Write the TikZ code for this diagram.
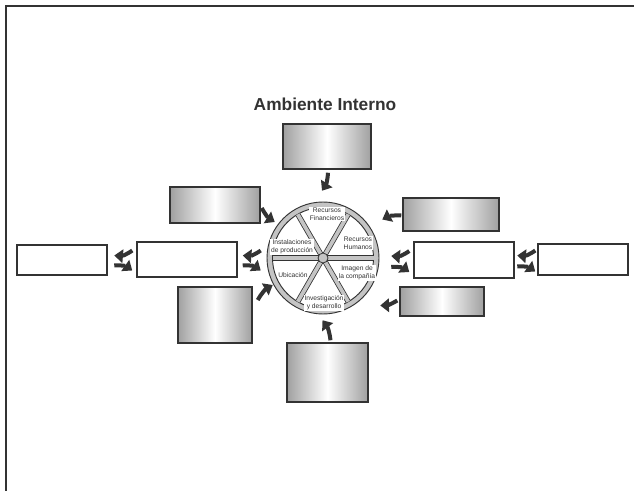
\documentclass[tikz,border=0pt]{standalone}
\usepackage{fontspec}
\setmainfont{Liberation Sans}
\usetikzlibrary{arrows.meta}
\definecolor{ink}{HTML}{333333}
\definecolor{rimgray}{HTML}{C4C4C4}
\definecolor{edgegray}{HTML}{A0A0A0}
\newcommand\pxu{0.75pt}
\tikzset{
  boxbase/.style={draw=ink, line width=1.1pt, inner sep=0pt},
  gbox/.style={boxbase, left color=edgegray, right color=edgegray, middle color=white},
  wbox/.style={boxbase, fill=white},
  barrow/.style={draw=ink, line width=3pt, -{Triangle[length=6.5pt,width=10pt]}},
  sector/.style={font=\fontsize{5}{6}\selectfont, text=ink, align=center, inner sep=0.6pt, fill=white},
  spoke/.style={draw=ink, line width=0.6pt, double=rimgray, double distance=2.8pt},
}
\begin{document}
\begin{tikzpicture}[x=0.75pt,y=-0.75pt]
\useasboundingbox (0,0) rectangle (634,491);
\fill[white] (0,0) rectangle (634,491);
% page frame
\draw[ink, line width=1.6pt] (6,491) -- (6,6) -- (634,6);

\node[font=\fontsize{13}{15}\selectfont\bfseries, text=ink] (title) at (325,104) {Ambiente Interno};

% the wheel
\node[circle, draw=ink, line width=0.7pt, fill=rimgray, minimum size=112*\pxu, inner sep=0pt] (wheel) at (323,258) {};
\node[circle, draw=ink, line width=0.7pt, fill=white, minimum size=101*\pxu, inner sep=0pt] (inner) at (wheel.center) {};
\foreach \a in {0,60,120}
  \draw[spoke] ([shift={(\a:50.5)}]wheel.center) -- ([shift={(\a+180:50.5)}]wheel.center);
\node[circle, draw=ink, line width=0.6pt, fill=rimgray, minimum size=10*\pxu, inner sep=0pt] (hub) at (wheel.center) {};

\node[sector] (s1) at (327,214) {Recursos\\Financieros};
\node[sector] (s2) at (358,243) {Recursos\\Humanos};
\node[sector] (s3) at (357,273) {Imagen de\\la compañía};
\node[sector] (s4) at (324,303) {Investigación\\y desarrollo};
\node[sector] (s5) at (293,275) {Ubicación};
\node[sector] (s6) at (292,247) {Instalaciones\\de producción};

% boxes
\node[gbox, minimum width=88*\pxu, minimum height=45*\pxu] (top) at (327,146.5) {};
\node[gbox, minimum width=90*\pxu, minimum height=36*\pxu] (ul) at (215,205) {};
\node[wbox, minimum width=100*\pxu, minimum height=35*\pxu] (lm) at (187,259.5) {};
\node[wbox, minimum width=90*\pxu, minimum height=30*\pxu] (fl) at (62,260) {};
\node[gbox, minimum width=74*\pxu, minimum height=56*\pxu] (ll) at (215,315) {};
\node[gbox, minimum width=96*\pxu, minimum height=33*\pxu] (ur) at (451,214.5) {};
\node[wbox, minimum width=100*\pxu, minimum height=36*\pxu] (rm) at (464,260) {};
\node[wbox, minimum width=90*\pxu, minimum height=31*\pxu] (fr) at (583,259.5) {};
\node[gbox, minimum width=84*\pxu, minimum height=29*\pxu] (lr) at (442,301.5) {};
\node[gbox, minimum width=81*\pxu, minimum height=59*\pxu] (bot) at (327.5,372.5) {};

% arrows into the wheel
\draw[barrow] ([shift={(1,3)}]top.south) to[bend left=15] ([shift={(-5,21)}]top.south);
\draw[barrow] ([shift={(1,3)}]ul.east) to[bend right=15] ([shift={(14,17)}]ul.east);
\draw[barrow] ([shift={(5,-15)}]ll.east) to[bend left=15] ([shift={(20,-30)}]ll.east);
\draw[barrow] ([shift={(-1,1)}]ur.west) to[bend right=15] ([shift={(-20,5)}]ur.west);
\draw[barrow] ([shift={(-2,-1)}]lr.west) to[bend left=15] ([shift={(-19,4)}]lr.west);
\draw[barrow] ([shift={(3,-2)}]bot.north) to[bend right=15] ([shift={(-5,-22)}]bot.north);

% paired arrows along the horizontal chain
\draw[barrow] ([shift={(-4,-9)}]lm.west) to[bend left=20] ([shift={(-22,-4)}]lm.west);
\draw[barrow] ([shift={(-22,6)}]lm.west) to[bend left=20] ([shift={(-4,11)}]lm.west);
\draw[barrow] ([shift={(23,-9)}]lm.east) to[bend left=20] ([shift={(5,-4)}]lm.east);
\draw[barrow] ([shift={(5,6)}]lm.east) to[bend left=20] ([shift={(23,11)}]lm.east);
\draw[barrow] ([shift={(-4,-9)}]rm.west) to[bend left=20] ([shift={(-22,-4)}]rm.west);
\draw[barrow] ([shift={(-22,7)}]rm.west) to[bend left=20] ([shift={(-4,12)}]rm.west);
\draw[barrow] ([shift={(-2,-9)}]fr.west) to[bend left=20] ([shift={(-20,-4)}]fr.west);
\draw[barrow] ([shift={(-20,7)}]fr.west) to[bend left=20] ([shift={(-2,12)}]fr.west);
\end{tikzpicture}
\end{document}
